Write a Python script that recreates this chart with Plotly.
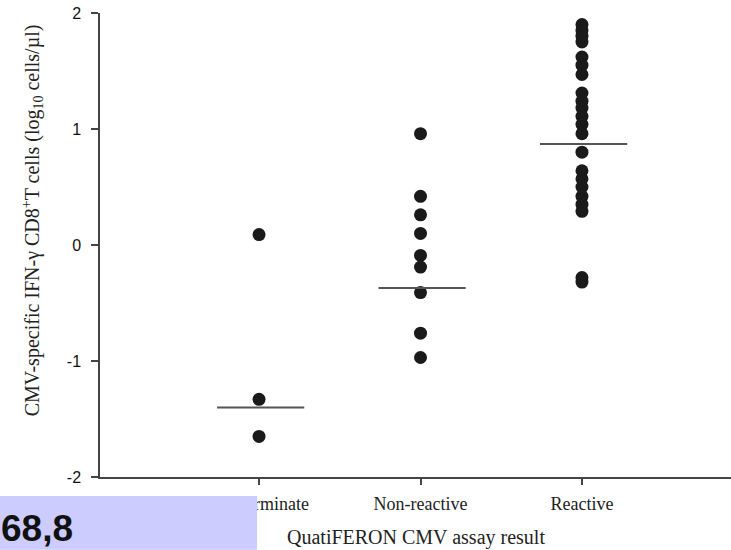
import plotly.graph_objects as go

# QuantiFERON CMV result groups
categories = ["Indeterminate", "Non-reactive", "Reactive"]

# CMV-specific IFN-gamma CD8+ T cells, log10 cells/ul
indeterminate = [0.09, -1.33, -1.65]
non_reactive = [0.96, 0.42, 0.26, 0.10, -0.09, -0.19, -0.41, -0.76, -0.97]
reactive = [1.90, 1.85, 1.80, 1.75, 1.62, 1.55, 1.47, 1.31, 1.24, 1.18, 1.11,
            1.04, 0.96, 0.80, 0.64, 0.57, 0.50, 0.42, 0.35, 0.29, -0.28, -0.32]
group_lines = [-1.40, -0.37, 0.87]

y_ticks = [-2, -1, 0, 1, 2]

groups = [indeterminate, non_reactive, reactive]

fig = go.Figure()

for i, vals in enumerate(groups):
    fig.add_trace(go.Scatter(
        x=[i] * len(vals), y=vals, mode="markers",
        marker=dict(size=13, color="#1a1a1a", line=dict(width=0)),
        showlegend=False, hoverinfo="y",
    ))

half_left, half_right = 0.26, 0.28
for i, m in enumerate(group_lines):
    fig.add_trace(go.Scatter(
        x=[i - half_left, i + half_right], y=[m, m], mode="lines",
        line=dict(color="#555555", width=2),
        showlegend=False, hoverinfo="skip",
    ))

serif = "Liberation Serif, Times New Roman, serif"
sans = "Liberation Sans, Arial, sans-serif"

fig.update_layout(
    width=731, height=550,
    margin=dict(l=100, r=0, t=13, b=73),
    paper_bgcolor="white", plot_bgcolor="white",
    xaxis=dict(
        range=[-0.985, 2.923],
        tickmode="array", tickvals=list(range(len(categories))), ticktext=categories,
        showline=True, linecolor="#444444", linewidth=1.5,
        ticks="outside", ticklen=6, tickwidth=1.5, tickcolor="#444444",
        showgrid=False, zeroline=False,
        tickfont=dict(family=serif, size=18, color="#222222"),
        ticklabelstandoff=4,
    ),
    yaxis=dict(
        range=[-2, 2],
        tickmode="array", tickvals=y_ticks, ticktext=[str(t) for t in y_ticks],
        showline=True, linecolor="#444444", linewidth=1.5,
        ticks="outside", ticklen=7, tickwidth=1.5, tickcolor="#444444",
        showgrid=False, zeroline=False,
        tickfont=dict(family=sans, size=16, color="#111111"),
        ticklabelstandoff=7,
    ),
)

# Axis titles
fig.add_annotation(xref="paper", yref="paper", x=0.5, y=-0.131,
                   xanchor="center", yanchor="middle", showarrow=False,
                   text="QuatiFERON CMV assay result",
                   font=dict(family=serif, size=20, color="#222222"))
fig.add_annotation(xref="paper", yref="paper", x=-0.1062, y=0.98,
                   xanchor="center", yanchor="top", showarrow=False, textangle=-90,
                   text="CMV-specific IFN-γ CD8<sup>+</sup>T cells (log<sub>10</sub> cells/µl)",
                   font=dict(family=serif, size=20, color="#222222"))

# Lavender label box in the lower-left corner
fig.add_shape(type="rect", xref="paper", yref="paper",
              x0=-0.1585, x1=0.2488, y0=-0.157, y1=-0.041,
              fillcolor="#CCCCFF", line=dict(width=0), layer="above")
fig.add_annotation(xref="paper", yref="paper", x=-0.1585, y=-0.1573,
                   xanchor="left", yanchor="bottom", showarrow=False,
                   borderpad=0,
                   text="<b>68,8</b>",
                   font=dict(family=sans, size=37, color="#111111"))

fig.write_html("out.html")
